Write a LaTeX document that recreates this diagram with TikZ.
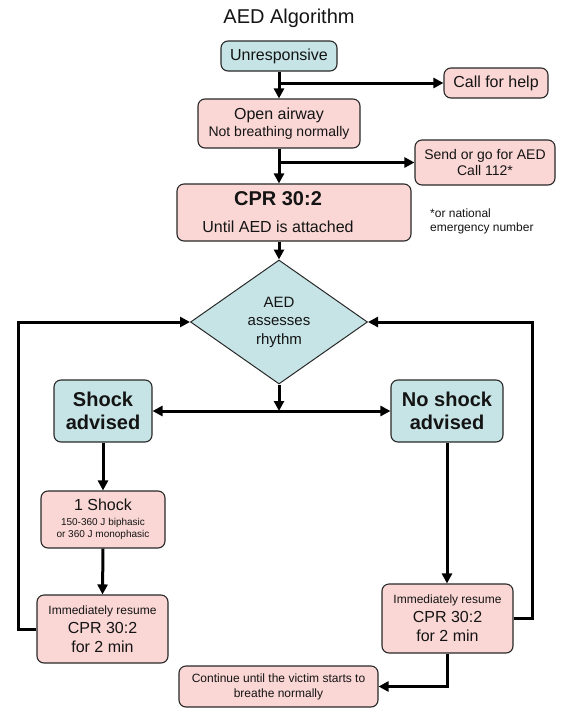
\documentclass[tikz,border=0pt]{standalone}
\usepackage{fontspec}
\setmainfont{Liberation Sans}
\usetikzlibrary{arrows.meta,shapes.geometric}
\definecolor{pinkfill}{RGB}{250,215,213}
\definecolor{bluefill}{RGB}{198,228,230}
\definecolor{edgecol}{RGB}{40,40,40}
\definecolor{txt}{RGB}{20,20,20}
\begin{document}
\begin{tikzpicture}[x=1pt,y=-1pt,
  box/.style={draw=edgecol, line width=1.1pt, rounded corners=7pt, inner sep=0pt, align=center, text=txt},
  pinkbox/.style={box, fill=pinkfill},
  bluebox/.style={box, fill=bluefill},
  plain/.style={inner sep=0pt, text=txt},
  arr/.style={line width=3pt, draw=black, -{Triangle[length=10pt,width=10pt]}},
  biarr/.style={line width=3pt, draw=black, {Triangle[length=10pt,width=10pt]}-{Triangle[length=10pt,width=10pt]}}
]
\useasboundingbox (0,0) rectangle (567,724);

% title
\node[plain, anchor=base, font=\fontsize{20}{24}\selectfont] (title) at (289,23) {AED Algorithm};

% top chain
\node[bluebox, minimum width=116pt, minimum height=30pt, font=\fontsize{16}{19}\selectfont] (unresp) at (279,56) {Unresponsive};
\node[pinkbox, minimum width=104pt, minimum height=30pt, font=\fontsize{16}{19}\selectfont] (help) at (496,83) {Call for help};
\node[pinkbox, minimum width=162pt, minimum height=49pt, font=\fontsize{14}{17}\selectfont] (open) at (279,123.5) {{\fontsize{16}{17}\selectfont Open airway}\\Not breathing normally};
\node[pinkbox, minimum width=140pt, minimum height=45pt, font=\fontsize{14}{16.5}\selectfont] (send) at (485,162.5) {Send or go for AED\\Call 112*};
\node[pinkbox, minimum width=234pt, minimum height=57pt] (cpr) at (294,212.5) {};
\node[plain, align=center, font=\fontsize{16}{27}\selectfont] (cprtext) at (278,212.5) {{\fontsize{20}{27}\selectfont\bfseries CPR 30:2}\\Until AED is attached};
\node[plain, align=left, anchor=west, font=\fontsize{12}{14}\selectfont] (note) at (430,221) {*or national\\emergency number};

% diamond
\node[diamond, draw=edgecol, line width=1pt, fill=bluefill, minimum width=177pt, minimum height=124pt, inner sep=0pt] (d) at (279,322) {};
\node[plain, align=center, font=\fontsize{15}{18.5}\selectfont] (dtext) at (279,322) {AED\\assesses\\rhythm};

% decision boxes
\node[bluebox, minimum width=98pt, minimum height=62pt, font=\fontsize{20}{23}\selectfont\bfseries] (shock) at (103,411) {Shock\\advised};
\node[bluebox, minimum width=112pt, minimum height=62pt, font=\fontsize{20}{23}\selectfont\bfseries] (noshock) at (447,411) {No shock\\advised};

% left branch
\node[pinkbox, minimum width=124pt, minimum height=57pt, font=\fontsize{10}{12}\selectfont] (oneshock) at (103,519.5) {{\fontsize{16}{12}\selectfont 1 Shock}\\[3pt]150-360 J biphasic\\or 360 J monophasic};
\node[pinkbox, minimum width=131pt, minimum height=68pt, font=\fontsize{16}{19}\selectfont] (lres) at (102.5,629) {{\fontsize{12}{19}\selectfont Immediately resume}\\CPR 30:2\\for 2 min};

% right branch
\node[pinkbox, minimum width=131pt, minimum height=69pt, font=\fontsize{16}{19}\selectfont] (rres) at (447.5,618.5) {{\fontsize{12}{19}\selectfont Immediately resume}\\CPR 30:2\\for 2 min};
\node[pinkbox, minimum width=199pt, minimum height=41pt, font=\fontsize{12}{15}\selectfont] (cont) at (278.5,686.5) {Continue until the victim starts to\\breathe normally};

% connectors
\draw[arr] (unresp.south) -- (open.north);
\draw[arr] (unresp.south |- help.west) -- (help.west);
\draw[arr] (open.south) -- (open.south |- cpr.north);
\draw[arr] (open.south |- send.west) -- (send.west);
\draw[arr] (cpr.south -| d.north) -- (d.north);
\draw[arr] (d.south) -- (d.south |- shock.east);
\draw[biarr] (shock.east) -- (noshock.west);
\draw[arr] (shock.south) -- (oneshock.north);
\draw[arr] (oneshock.south) -- (lres.north);
\draw[arr] (lres.west) -- ++(-18,0) |- (d.west);
\draw[arr] (noshock.south) -- (noshock.south |- rres.north);
\draw[arr] (rres.east) -- ++(19,0) |- (d.east);
\draw[arr] (rres.south -| noshock.south) |- (cont.east);
\end{tikzpicture}
\end{document}
